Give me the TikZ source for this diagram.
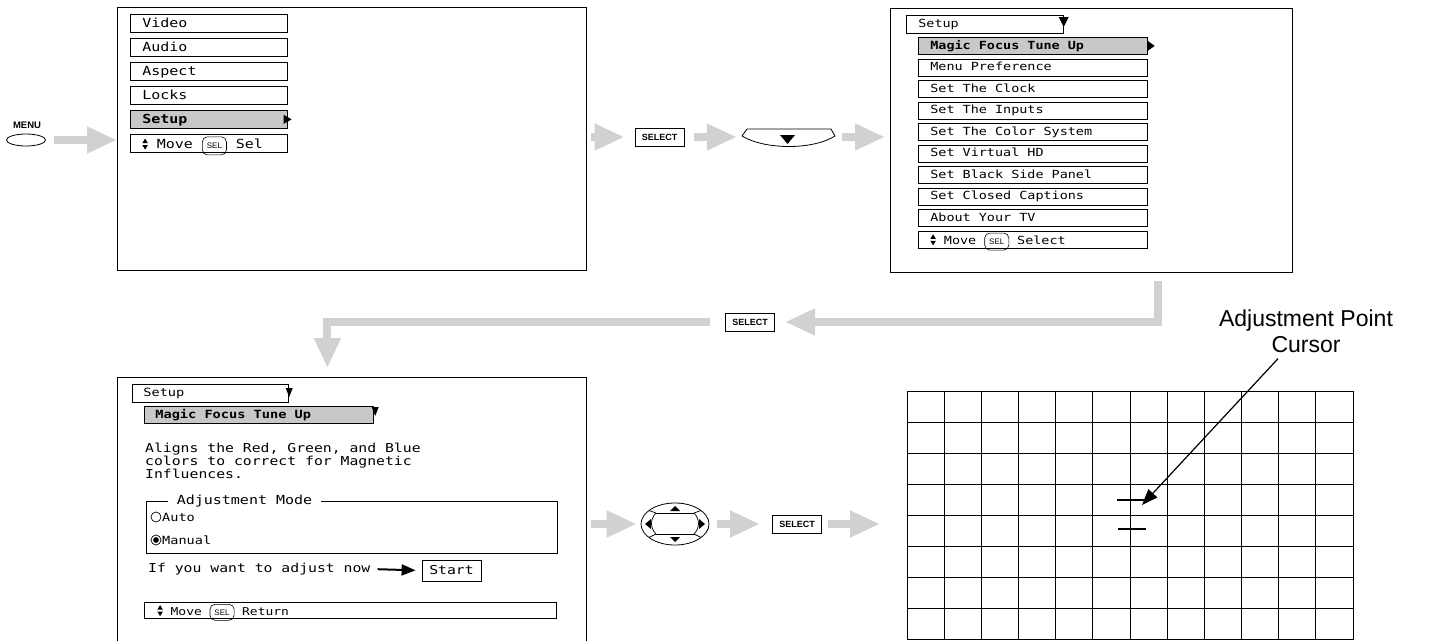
\documentclass[tikz,border=0pt]{standalone}
\usepackage{fontspec}
\setmainfont{Liberation Sans}
\setsansfont{Liberation Sans}
\newfontfamily\menufont[FakeStretch=1.2]{DejaVu Sans Mono}
\usetikzlibrary{shapes.geometric,arrows.meta}
\definecolor{arrowgray}{RGB}{208,209,211}
\definecolor{hlgray}{RGB}{200,200,202}
\newcommand{\mfs}[1]{\menufont\fontsize{#1}{#1}\selectfont}
\newcommand{\updn}{\tikz[baseline=0pt]{\fill (0pt,5.5pt) -- (5.5pt,5.5pt) -- (2.75pt,10pt) -- cycle;
  \fill (0pt,3.5pt) -- (5.5pt,3.5pt) -- (2.75pt,-1pt) -- cycle;}}
\newcommand{\selkey}{\tikz[baseline=(sk.base)]\node[draw, rounded corners=5pt, line width=0.6pt,
  inner xsep=4.5pt, inner ysep=2.5pt, font=\sffamily\fontsize{8}{8}\selectfont] (sk) {SEL};}

\begin{document}
\begin{tikzpicture}[x=1pt, y=-1pt,
  screen/.style={draw, line width=0.9pt, anchor=north west, inner sep=0},
  item/.style={draw, line width=0.7pt, anchor=north west, inner ysep=0pt, align=left,
    text depth=0.3ex, execute at begin node={\spaceskip=0pt\xspaceskip=0pt}},
  tlitem/.style={item, text width=133pt, inner xsep=12pt, minimum height=18pt, font=\mfs{12.5}},
  tritem/.style={item, text width=205pt, inner xsep=12pt, minimum height=17pt, font=\mfs{11.2}},
  hl/.style={fill=hlgray},
  keybtn/.style={draw, line width=1pt, minimum width=49pt, minimum height=18pt, inner sep=0,
    font=\bfseries\fontsize{9}{9}\selectfont},
  flow/.style={draw=arrowgray, line width=8pt, -{Triangle[length=30pt,width=25pt]}},
  blk/.style={line width=2pt, -{Triangle[length=14pt,width=11pt]}},
  ptr/.style={line width=1.2pt, -{Triangle[length=16pt,width=12pt]}},
  gridline/.style={line width=0.8pt},
  curs/.style={line width=1.5pt},
]
\useasboundingbox (0,0) rectangle (1440,640);

% MENU button
\node[font=\bfseries\fontsize{9.5}{9.5}\selectfont] (menulbl) at (27,125) {MENU};
\node[ellipse, draw, line width=0.8pt, minimum width=39pt, minimum height=12pt, inner sep=0] (menubtn) at (26,140) {};

% Top-left screen: main menu
\node[screen, minimum width=469pt, minimum height=263pt] (scr1) at (117,7) {};
\node[tlitem] (tvideo) at (130,14) {Video};
\node[tlitem] (taudio) at (130,38) {Audio};
\node[tlitem] (taspect) at (130,62) {Aspect};
\node[tlitem] (tlocks) at (130,86) {Locks};
\node[tlitem, hl] (tsetup) at (130,110) {\bfseries Setup};
\node[tlitem] (tmove) at (130,134) {\updn\ Move \selkey\ Sel};
\fill ([shift={(-4pt,4.5pt)}]tsetup.east) -- ++(0pt,-9pt) -- ++(8pt,4.5pt) -- cycle;

% Top row keys
\node[keybtn] (sel1) at (659.5,137) {SELECT};
\node[minimum width=93pt, minimum height=19pt, inner sep=0] (dnbtn) at (788.5,137) {};
\draw[line width=0.8pt] (742,136) -- (747,129) -- (831,129) -- (835,136)
  .. controls (813,150) and (765,150) .. (742,136);
\fill (780,135) -- (795,135) -- (787.5,144) -- cycle;

% Top-right screen: setup menu
\node[screen, minimum width=402pt, minimum height=264pt] (scr2) at (890,8) {};
\node[tlitem, text width=133pt, minimum height=18pt, font=\mfs{11.2}] (rsetup) at (906,15) {Setup};
\fill ([shift={(-5pt,-2pt)}]rsetup.north east) -- ++(10pt,0pt) -- ++(-5pt,-10pt) -- cycle;
\node[tritem, hl] (rmagic) at (918,37) {\bfseries Magic Focus Tune Up};
\fill ([shift={(0pt,5pt)}]rmagic.east) -- ++(0pt,-10pt) -- ++(7pt,5pt) -- cycle;
\node[tritem] (rpref) at (918,58.5) {Menu Preference};
\node[tritem] (rclock) at (918,80) {Set The Clock};
\node[tritem] (rinputs) at (918,101.5) {Set The Inputs};
\node[tritem] (rcolor) at (918,123) {Set The Color System};
\node[tritem] (rvhd) at (918,144.5) {Set Virtual HD};
\node[tritem] (rpanel) at (918,166) {Set Black Side Panel};
\node[tritem] (rcaps) at (918,187.5) {Set Closed Captions};
\node[tritem] (rabout) at (918,209) {About Your TV};
\node[tritem] (rmove) at (918,230.5) {\updn\ Move \selkey\ Select};

% Return path
\node[keybtn] (sel3) at (750,322) {SELECT};

% Bottom-left screen: magic focus
\node[screen, draw=none, minimum width=469pt, minimum height=263pt] (scr3) at (117,377) {};
\draw[line width=0.9pt] (scr3.south west) -- (scr3.north west) -- (scr3.north east) -- (scr3.south east);
\node[item, text width=134pt, inner xsep=11pt, minimum height=18pt, font=\mfs{11.35}] (bsetup) at (132,384) {Setup};
\fill ([shift={(-3pt,-4pt)}]bsetup.north east) -- ++(7pt,0pt) -- ++(-3.5pt,-9pt) -- cycle;
\node[item, hl, text width=207pt, inner xsep=11pt, minimum height=17pt, font=\mfs{11.35}] (bmagic) at (144,406) {\bfseries Magic Focus Tune Up};
\fill ([shift={(-2pt,-1pt)}]bmagic.north east) -- ++(7pt,0pt) -- ++(-3.5pt,-9pt) -- cycle;
\node[anchor=north west, inner sep=0, align=left, font=\menufont\fontsize{12.3}{11.5}\selectfont] (bdesc) at (145,443)
  {Aligns the Red, Green, and Blue\\colors to correct for Magnetic\\Influences.};

\node[draw, line width=0.7pt, anchor=north west, minimum width=411pt, minimum height=52pt, inner sep=0] (modebox) at (146,501) {};
\node[fill=white, inner xsep=9pt, inner ysep=1pt, font=\mfs{12.5}] (modettl) at (244.5,501) {Adjustment Mode};
\node[circle, draw, line width=0.7pt, minimum size=10pt, inner sep=0] (auto) at (156,517) {};
\node[anchor=west, inner sep=0, font=\mfs{11.3}] (autolbl) at (162,517) {Auto};
\node[circle, draw, line width=0.7pt, minimum size=10pt, inner sep=0] (manual) at (156,540) {};
\fill (manual.center) circle (2.9pt);
\node[anchor=west, inner sep=0, font=\mfs{11.3}] (manuallbl) at (162,540) {Manual};

\node[anchor=west, inner sep=0, font=\mfs{12.3}] (adjtxt) at (148,569) {If you want to adjust now};
\node[draw, line width=0.8pt, minimum width=59pt, minimum height=21pt, inner sep=0, font=\mfs{12.3}] (startbtn) at (451.5,570.5) {Start};
\draw[blk, shorten <=7pt, shorten >=6pt] (adjtxt.east) -- (startbtn.west);
\node[item, text width=386pt, inner xsep=13pt, minimum height=16pt, font=\mfs{10.8}] (bmove) at (144,602) {\updn\ Move \selkey\ Return};

% Bottom row keys
\node[ellipse, draw, line width=0.8pt, minimum width=68pt, minimum height=42pt, inner sep=0] (pad) at (675,524) {};
\begin{scope}[shift={(pad.center)}, line width=0.7pt]
  \draw (-19,-11) -- (19,-11);
  \draw (-19,10) -- (19,10);
  \draw (-19,-11) .. controls (-25,-5) and (-25,4) .. (-19,10);
  \draw (19,-11) .. controls (25,-5) and (25,4) .. (19,10);
  \draw (-19,-11) -- (-26,-13.5);
  \draw (19,-11) -- (26,-13.5);
  \draw (-19,10) -- (-26,13.5);
  \draw (19,10) -- (26,13.5);
  \fill (-5,-13) -- (5,-13) -- (0,-18) -- cycle;
  \fill (-5,13) -- (5,13) -- (0,18) -- cycle;
  \fill (-24,-5) -- (-24,5) -- (-30,0) -- cycle;
  \fill (24,-5) -- (24,5) -- (30,0) -- cycle;
\end{scope}
\node[keybtn] (sel2) at (797,524) {SELECT};

% Bottom-right screen: adjustment grid
\node[draw, gridline, anchor=north west, minimum width=446pt, minimum height=248pt, inner sep=0] (grd) at (907,391) {};
\foreach \i in {1,...,11}
  \draw[gridline] ([xshift=\i*37.1667pt]grd.north west) -- ([xshift=\i*37.1667pt]grd.south west);
\foreach \j in {1,...,7}
  \draw[gridline] ([yshift=-\j*31pt]grd.north west) -- ([yshift=-\j*31pt]grd.north east);
\draw[curs] (1117,500) -- (1146,500);
\draw[curs] (1118,529) -- (1146,529);
\coordinate (curtip) at (1142,505);
\node[align=center, inner sep=0, font=\fontsize{23}{26}\selectfont] (curlbl) at (1306,331) {Adjustment Point\\Cursor};
\draw[ptr] ([shift={(-28pt,-6pt)}]curlbl.south) -- (curtip);

% Flow arrows
\draw[flow, shorten <=8pt] (menubtn.east) -- (scr1.west |- menubtn);
\draw[flow, shorten <=4pt, shorten >=10pt] (scr1.east |- sel1) -- (sel1.west);
\draw[flow, shorten <=9pt, shorten >=5pt] (sel1.east) -- (dnbtn.west);
\draw[flow, shorten <=7pt, shorten >=5pt] (dnbtn.east) -- (scr2.west |- dnbtn);
\draw[flow, shorten >=10pt] ([shift={(67pt,-8pt)}]scr2.south) |- (sel3.east);
\draw[flow, shorten >=9pt] ([xshift=-15pt]sel3.west) -| ([xshift=-24.5pt]scr3.north);
\draw[flow, shorten <=4pt, shorten >=4pt] (scr3.east |- pad) -- (pad.west);
\draw[flow, shorten <=8pt, shorten >=12pt] (pad.east) -- (sel2.west);
\draw[flow, shorten <=6pt, shorten >=27pt] (sel2.east) -- (grd.west |- sel2);

\end{tikzpicture}
\end{document}
